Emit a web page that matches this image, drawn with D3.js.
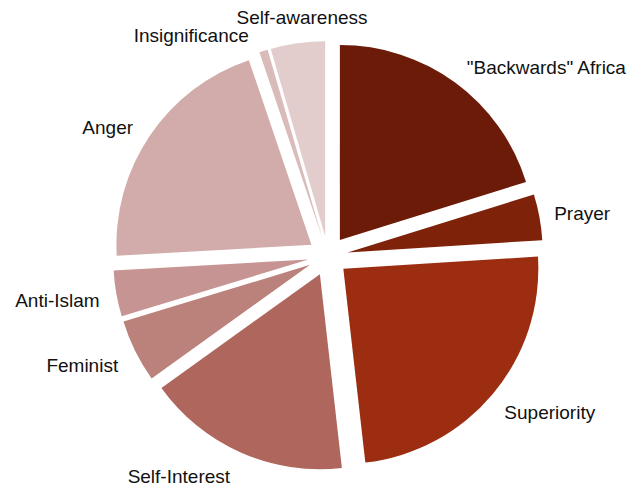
<!DOCTYPE html>
<html>
<head>
<meta charset="utf-8">
<script src="https://cdn.jsdelivr.net/npm/d3@7/dist/d3.min.js"></script>
<style>
  html, body { margin: 0; padding: 0; background: #ffffff; }
  svg { display: block; }
  text { font-family: "Liberation Sans", Arial, Helvetica, sans-serif; font-size: 19px; fill: #111; }
</style>
</head>
<body>
<svg id="chart" width="627" height="488"></svg>
<script>
// Share of responses by theme (percent), clockwise from 12 o'clock
const categories = ['"Backwards" Africa', 'Prayer', 'Superiority', 'Self-Interest',
                    'Feminist', 'Anti-Islam', 'Anger', 'Insignificance', 'Self-awareness'];
const values = [20.2, 3.8, 24.2, 16.9, 5.2, 3.8, 20.7, 0.7, 4.5];

// Slice fills: deep rust fading to pale rose
const palette = ['#6b1b07', '#7e230a', '#9c2d11', '#ae665d', '#bb817b',
                 '#c69593', '#d1acaa', '#d9bcba', '#e2cdcc'];

const width = 627, height = 488;
const cx = 328, cy = 256;
const radius = 195;
const explode = 20;      // outward shift of every slice
const labelRadius = 234;

// Hand-tuned label nudges (px) so neighbouring labels clear each other
const labelNudge = {
  'Prayer': [-4, 0],
  'Superiority': [-3, 6],
  'Self-Interest': [-3, 6],
  'Feminist': [0, 6],
  'Anti-Islam': [2, 3],
  'Anger': [-1, 2],
  'Insignificance': [-9, 3],
  'Self-awareness': [7, -7]
};

const svg = d3.select('#chart');
const g = svg.append('g').attr('transform', `translate(${cx},${cy})`);

const rows = categories.map((c, i) => ({ category: c, value: values[i], color: palette[i] }));

const pie = d3.pie().sort(null).value(d => d.value);
const arcs = pie(rows);
const arc = d3.arc().innerRadius(0).outerRadius(radius);

const mid = d => (d.startAngle + d.endAngle) / 2;
const nudge = d => labelNudge[d.data.category] || [0, 0];

g.selectAll('path.slice')
  .data(arcs)
  .join('path')
  .attr('class', 'slice')
  .attr('d', arc)
  .attr('fill', d => d.data.color)
  .attr('transform', d => {
    const a = mid(d);
    return `translate(${explode * Math.sin(a)},${-explode * Math.cos(a)})`;
  });

g.selectAll('text.label')
  .data(arcs)
  .join('text')
  .attr('class', 'label')
  .attr('x', d => labelRadius * Math.sin(mid(d)) + nudge(d)[0])
  .attr('y', d => -labelRadius * Math.cos(mid(d)) + nudge(d)[1])
  .attr('dy', '0.35em')
  .attr('text-anchor', d => {
    const s = Math.sin(mid(d));
    if (Math.abs(s) < 0.2) return 'middle';
    return s > 0 ? 'start' : 'end';
  })
  .text(d => d.data.category);
</script>
</body>
</html>
